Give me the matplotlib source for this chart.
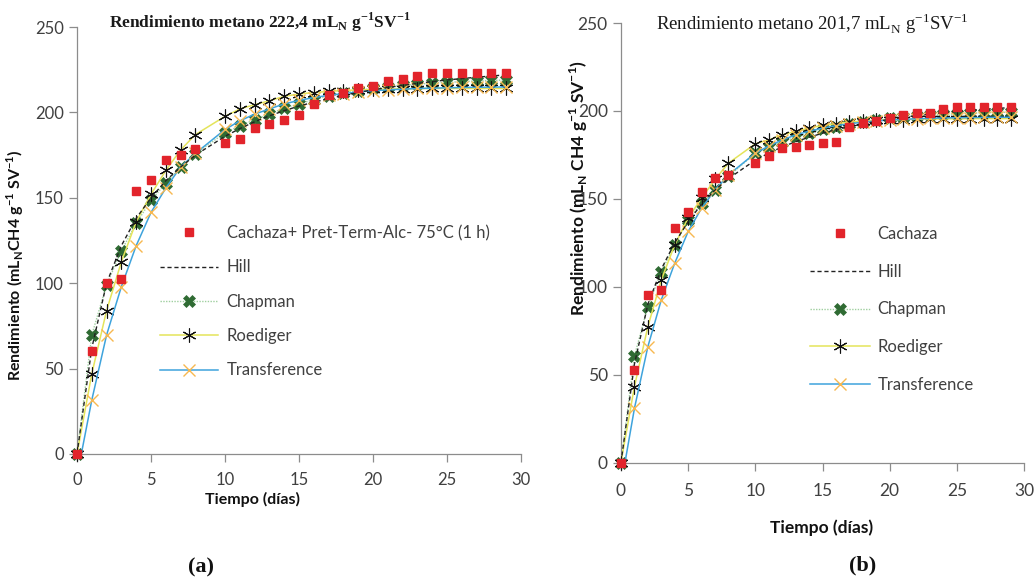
import matplotlib
matplotlib.use("Agg")
import matplotlib.pyplot as plt

# ---------------- data ----------------
days = [0, 1, 2, 3, 4, 5, 6, 7, 8, 10, 11, 12, 13, 14, 15, 16, 17, 18, 19, 20,
        21, 22, 23, 24, 25, 26, 27, 28, 29]

a_cachaza = [0, 60.4, 100.2, 102.5, 153.7, 160.6, 171.9, 175.2, 178.7, 182.1, 184.6, 190.6,
             193.4, 195.3, 198.7, 204.9, 210.2, 211.4, 214.1, 215.5, 218.2, 219.6, 221.5,
             222.9, 222.9, 222.9, 222.9, 222.9, 223.2]
a_hill = [0, 62, 100, 122, 138, 150, 160, 168, 175, 186, 190.5, 194.5, 198, 201, 203.7, 206,
          208, 210, 211.7, 213.2, 214.6, 215.8, 217, 218, 219, 219.8, 220.6, 221.3, 222]
a_chapman = [0, 69.7, 99, 119, 135, 148.5, 158.6, 168, 175.8, 188, 192.2, 195.7, 199, 202.5,
             205, 207.5, 209.7, 211.4, 212.8, 214, 215, 215.8, 216.5, 217.1, 217.6, 218,
             218.4, 218.7, 219]
a_roediger = [0, 47, 84, 112.6, 136, 152, 166, 178, 187, 197.7, 202, 204.5, 206.8, 209.4,
              210.8, 211.6, 212.3, 212.8, 213.2, 213.5, 213.7, 213.8, 213.9, 214, 214, 214,
              214, 214, 214]
a_transference = [-13, 31.6, 69.7, 98, 122, 141.4, 155.7, 168, 176, 190, 195, 199, 202, 205,
                  207, 208.7, 210, 211, 212, 212.7, 213.2, 213.6, 214, 214.2, 214.4, 214.6,
                  214.7, 214.8, 214.9]

b_cachaza = [0, 52.6, 95.2, 98, 133.3, 142.6, 154, 161.7, 163.6, 170.3, 174.4, 178.8, 179.6,
             180.7, 181.8, 182.4, 191, 193.2, 194.5, 195.9, 197.4, 198.7, 198.7, 201, 202.5,
             202.5, 202.5, 202.5, 202.5]
b_hill = [0, 56, 90, 110, 125, 137, 147, 155, 161.5, 172, 176, 179.5, 182.5, 185, 187.3,
          189.3, 191, 192.6, 194, 195.2, 196.3, 197.3, 198.2, 199, 199.7, 200.3, 200.9, 201.4,
          201.9]
b_chapman = [0, 60.6, 88.7, 108.6, 123.8, 138, 147.5, 155, 162.7, 176, 179.5, 182.5, 185,
             187.5, 189.5, 191, 192.5, 193.8, 194.8, 195.7, 196.4, 197, 197.5, 198, 198.3,
             198.6, 198.9, 199.1, 199.3]
b_roediger = [0, 43.2, 77.3, 103.9, 123.8, 139, 150.4, 161, 170.3, 181.3, 183.5, 186.4, 188.3,
              190.3, 191.7, 192.8, 193.6, 194.2, 194.6, 194.9, 195.1, 195.3, 195.4, 195.5,
              195.5, 195.6, 195.6, 195.6, 195.6]
b_transference = [-13, 30.8, 65.9, 92.5, 113.4, 131.4, 144.7, 155, 163.6, 176, 180, 183.5,
                  186.3, 188.5, 190.2, 191.6, 192.7, 193.6, 194.3, 194.8, 195.2, 195.5, 195.8,
                  196, 196.1, 196.2, 196.3, 196.4, 196.4]

label_a = "Cachaza+ Pret-Term-Alc- 75°C (1 h)"
label_b = "Cachaza"
model_names = ["Hill", "Chapman", "Roediger", "Transference"]
x_ticks = [0, 5, 10, 15, 20, 25, 30]
y_ticks = [0, 50, 100, 150, 200, 250]

# ---------------- style ----------------
SANS = ["Lato", "DejaVu Sans"]
SERIF = ["Liberation Serif", "DejaVu Serif"]
AXC = "#8c8c8c"
TXT = "#404040"
RED = "#e2242b"
GREEN = "#2f6b33"
LGREEN = "#9fcf9f"
YELLOW = "#e4e45a"
BLUE = "#3ea3dc"
ORANGE = "#f7b850"
ASTER = (6, 2, 0)

W, H = 1036, 582
fig = plt.figure(figsize=(W / 100, H / 100), dpi=100)


def px_axes(x0, x1, ytop, ybot):
    return fig.add_axes([x0 / W, 1 - ybot / H, (x1 - x0) / W, (ybot - ytop) / H])


def draw(ax, cach, hill, chap, roed, trans, lab, fs):
    l0, = ax.plot(days, cach, ls="none", marker="s", ms=5.2, color=RED, zorder=6,
                  clip_on=False, label=lab)
    l1, = ax.plot(days, hill, ls=(0, (3, 2)), lw=1.0, color="#222222", zorder=4,
                  label=model_names[0])
    l2, = ax.plot(days, chap, ls=(0, (1, 1)), lw=1.0, color=LGREEN, marker="X", ms=9,
                  mfc=GREEN, mec=GREEN, mew=0.5, zorder=2, clip_on=False,
                  label=model_names[1])
    l3, = ax.plot(days, roed, ls="-", lw=1.1, color=YELLOW, marker=ASTER, ms=10,
                  mec="#111111", mew=0.8, zorder=3, clip_on=False, label=model_names[2])
    l4, = ax.plot(days, trans, ls="-", lw=1.1, color=BLUE, marker="x", ms=9,
                  mec=ORANGE, mew=1.0, zorder=3.5, label=model_names[3])
    ax.set_xlim(0, 30)
    ax.set_ylim(0, 250)
    ax.set_xticks(x_ticks)
    ax.set_yticks(y_ticks)
    for s in ["top", "right"]:
        ax.spines[s].set_visible(False)
    for s in ["left", "bottom"]:
        ax.spines[s].set_color(AXC)
        ax.spines[s].set_linewidth(0.9)
    ax.tick_params(axis="both", direction="out", length=6, width=0.9, color=AXC,
                   labelcolor=TXT, labelsize=fs)
    for t in ax.get_xticklabels() + ax.get_yticklabels():
        t.set_fontfamily(SANS)
    return [l0, l1, l2, l3, l4]


# ---------------- panel (a) ----------------
axa = px_axes(77, 521, 27, 454)
ha = draw(axa, a_cachaza, a_hill, a_chapman, a_roediger, a_transference, label_a, 12)
axa.tick_params(axis="x", pad=7)
axa.set_xlabel("Tiempo (días)", fontfamily=SANS, fontweight="bold", fontsize=11.5,
               color="#111111")
axa.xaxis.set_label_coords((253 - 77) / 444, (454 - 492) / 427)
axa.set_ylabel(r"Rendimiento (mL$_\mathregular{N}$CH4 g$^\mathregular{-1}$ SV$^\mathregular{-1}$)",
               fontfamily=SANS, fontweight="bold", fontsize=11.5, color="#111111")
axa.yaxis.set_label_coords((26 - 77) / 444, (454 - 265) / 427)
leg_a = axa.legend(handles=ha, loc="upper left", frameon=False, numpoints=1,
                   prop={"family": SANS, "size": 12}, handlelength=3.5,
                   handletextpad=0.5, labelspacing=1.1, borderpad=0, borderaxespad=0,
                   bbox_to_anchor=(160 / W, 1 - 225 / H), bbox_transform=fig.transFigure)
for t in leg_a.get_texts():
    t.set_color(TXT)

# ---------------- panel (b) ----------------
axb = px_axes(621, 1024, 23, 462.5)
hb = draw(axb, b_cachaza, b_hill, b_chapman, b_roediger, b_transference, label_b, 12.5)
axb.tick_params(axis="x", pad=9)
axb.set_xlabel("Tiempo (días)", fontfamily=SANS, fontweight="bold", fontsize=12.5,
               color="#111111")
axb.xaxis.set_label_coords((822 - 621) / 403, (462.5 - 519) / 439.5)
axb.set_ylabel(r"Rendimiento (mL$_\mathregular{N}$ CH4 g$^\mathregular{-1}$ SV$^\mathregular{-1}$)",
               fontfamily=SANS, fontweight="bold", fontsize=12.5, color="#111111")
axb.yaxis.set_label_coords((590 - 621) / 403, (462.5 - 188) / 439.5)
leg_b = axb.legend(handles=hb, loc="upper left", frameon=False, numpoints=1,
                   prop={"family": SANS, "size": 12}, handlelength=3.6,
                   handletextpad=0.45, labelspacing=1.3, borderpad=0, borderaxespad=0,
                   bbox_to_anchor=(810 / W, 1 - 226 / H), bbox_transform=fig.transFigure)
for t in leg_b.get_texts():
    t.set_color(TXT)

# ---------------- titles and panel letters ----------------
fig.text(260 / W, 1 - 28 / H,
         r"Rendimiento metano 222,4 mL$_\mathregular{N}$ g$^\mathregular{-1}$SV$^\mathregular{-1}$",
         ha="center", va="baseline", fontfamily=SERIF, fontweight="bold", fontsize=12.5,
         color="#1a1a1a")
fig.text(812 / W, 1 - 30 / H,
         r"Rendimiento metano 201,7 mL$_\mathregular{N}$ g$^\mathregular{-1}$SV$^\mathregular{-1}$",
         ha="center", va="baseline", fontfamily=SERIF, fontsize=13.5, color="#1a1a1a")
fig.text(201 / W, 1 - 567 / H, "(a)", ha="center", va="center", fontfamily=SERIF,
         fontweight="bold", fontsize=16, color="#111111")
fig.text(863 / W, 1 - 565 / H, "(b)", ha="center", va="center", fontfamily=SERIF,
         fontweight="bold", fontsize=16, color="#111111")

fig.savefig("out.png", dpi=100)
